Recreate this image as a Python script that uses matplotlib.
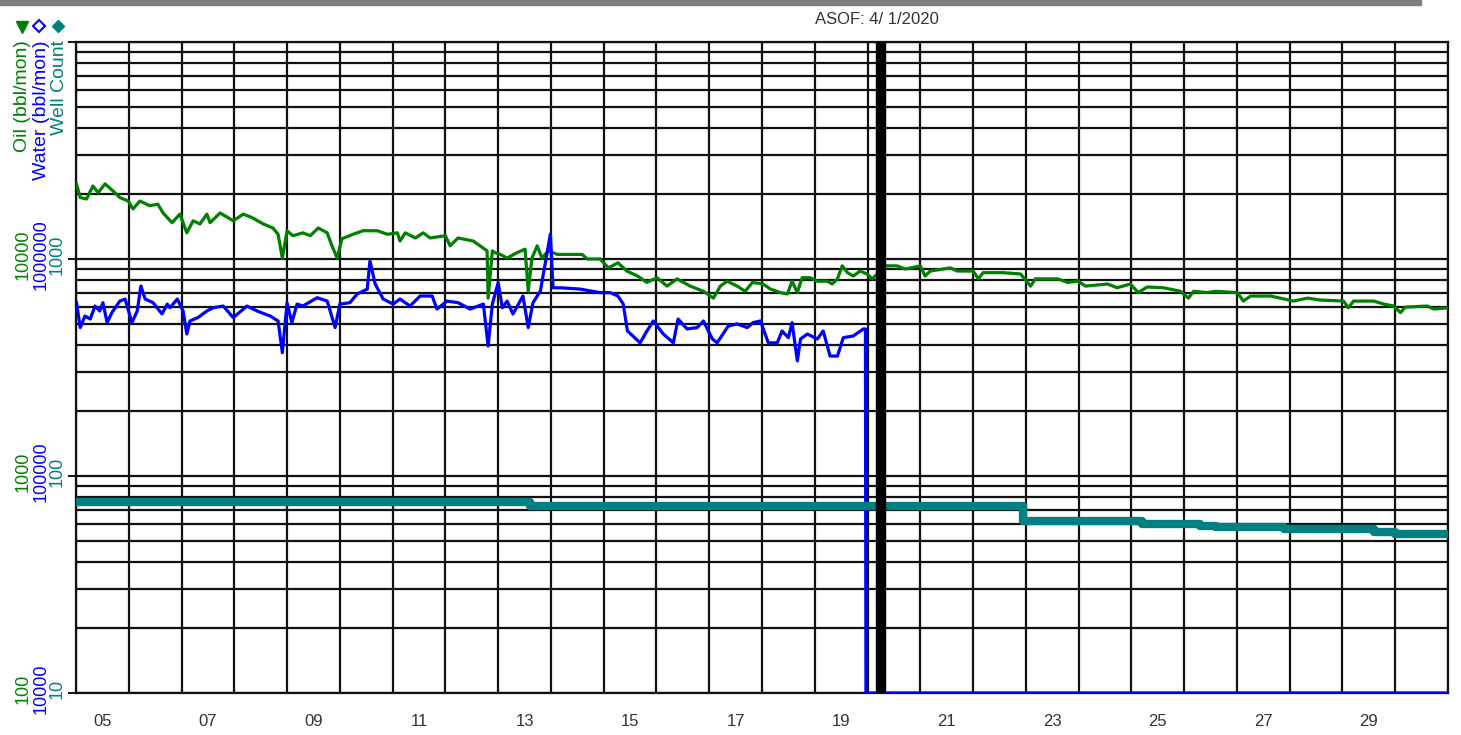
import numpy as np
import matplotlib
matplotlib.use('Agg')
import matplotlib.pyplot as plt
from matplotlib.ticker import LogLocator, NullFormatter, MultipleLocator, FixedLocator
from matplotlib.lines import Line2D
from matplotlib.patches import Rectangle
from matplotlib.transforms import blended_transform_factory, offset_copy

plt.rcParams['font.family'] = ['Liberation Sans', 'DejaVu Sans']

# Oil production (bbl/mon)
oil_year = [2005.01, 2005.08, 2005.20, 2005.32, 2005.42, 2005.55, 2005.70, 2005.83, 2005.99, 2006.08,
            2006.21, 2006.40, 2006.55, 2006.65, 2006.82, 2006.97, 2007.10, 2007.22, 2007.35, 2007.48,
            2007.54, 2007.73, 2007.98, 2008.17, 2008.34, 2008.55, 2008.73, 2008.83, 2008.91, 2009.00,
            2009.11, 2009.30, 2009.44, 2009.59, 2009.76, 2009.85, 2009.95, 2010.04, 2010.25, 2010.44,
            2010.71, 2010.90, 2011.09, 2011.14, 2011.24, 2011.43, 2011.58, 2011.71, 2012.00, 2012.09,
            2012.24, 2012.53, 2012.70, 2012.79, 2012.81, 2012.89, 2012.94, 2013.04, 2013.17, 2013.36,
            2013.51, 2013.57, 2013.64, 2013.74, 2013.83, 2013.95, 2014.12, 2014.42, 2014.59, 2014.69,
            2014.93, 2015.09, 2015.27, 2015.44, 2015.64, 2015.82, 2016.01, 2016.20, 2016.39, 2016.64,
            2016.89, 2017.08, 2017.21, 2017.34, 2017.53, 2017.68, 2017.82, 2018.02, 2018.16, 2018.35,
            2018.48, 2018.57, 2018.67, 2018.76, 2018.91, 2019.05, 2019.24, 2019.33, 2019.43, 2019.52,
            2019.62, 2019.73, 2019.86, 2019.99, 2020.09, 2020.34, 2020.56, 2020.72, 2021.00, 2021.09,
            2021.19, 2021.57, 2021.70, 2022.00, 2022.10, 2022.19, 2022.57, 2022.90, 2023.09, 2023.18,
            2023.60, 2023.79, 2023.99, 2024.13, 2024.55, 2024.73, 2024.98, 2025.13, 2025.30, 2025.61,
            2025.93, 2026.08, 2026.18, 2026.44, 2026.59, 2027.01, 2027.12, 2027.26, 2027.64, 2027.82,
            2028.07, 2028.34, 2028.58, 2029.02, 2029.11, 2029.21, 2029.59, 2029.78, 2029.97, 2030.10,
            2030.19, 2030.61, 2030.73, 2030.99]
oil_bbl = [22100, 19200, 18900, 21700, 20200, 22200, 20600, 19200, 18500, 17000,
           18500, 17600, 17900, 16300, 14700, 16100, 13200, 15000, 14500, 16100,
           14700, 16300, 15000, 16100, 15500, 14500, 13900, 13000, 10100, 13500,
           12800, 13200, 12800, 13900, 13200, 11500, 10100, 12400, 13000, 13500,
           13500, 13000, 13200, 12100, 13200, 12500, 13200, 12500, 12800, 11500,
           12500, 12100, 11300, 10900, 6600, 10900, 10700, 10500, 10100, 10700,
           11100, 7100, 10100, 11500, 10100, 10900, 10500, 10500, 10500, 10000,
           10000, 9100, 9600, 8800, 8350, 7800, 8200, 7500, 8100, 7500,
           7100, 6600, 7500, 7900, 7500, 7100, 7800, 7670, 7270, 7000,
           6900, 7900, 7000, 8200, 8200, 7900, 7900, 7670, 8100, 9300,
           8650, 8350, 8800, 8530, 8100, 9300, 9300, 8990, 9300, 8350,
           8800, 9100, 8800, 8800, 8100, 8650, 8650, 8530, 7500, 8100,
           8100, 7800, 7900, 7500, 7670, 7370, 7670, 7000, 7430, 7370,
           7100, 6600, 7100, 7000, 7100, 7000, 6400, 6750, 6750, 6600,
           6400, 6600, 6470, 6400, 5960, 6400, 6400, 6200, 6070, 5660,
           6000, 6070, 5880, 5950]

# Water production (bbl/mon); zero after shut-in
water_year = [2005.01, 2005.08, 2005.17, 2005.27, 2005.36, 2005.45, 2005.51, 2005.59, 2005.68, 2005.83,
              2005.93, 2006.06, 2006.16, 2006.23, 2006.31, 2006.46, 2006.63, 2006.73, 2006.78, 2006.92,
              2007.03, 2007.10, 2007.16, 2007.31, 2007.48, 2007.60, 2007.79, 2007.98, 2008.24, 2008.43,
              2008.68, 2008.83, 2008.91, 2009.00, 2009.09, 2009.19, 2009.30, 2009.57, 2009.76, 2009.91,
              2010.00, 2010.19, 2010.33, 2010.52, 2010.57, 2010.67, 2010.82, 2011.01, 2011.14, 2011.33,
              2011.52, 2011.75, 2011.84, 2012.03, 2012.24, 2012.47, 2012.72, 2012.81, 2012.89, 2013.00,
              2013.08, 2013.17, 2013.28, 2013.47, 2013.57, 2013.66, 2013.80, 2013.99, 2014.04, 2014.18,
              2014.55, 2014.93, 2015.12, 2015.27, 2015.37, 2015.45, 2015.69, 2015.82, 2015.94, 2016.13,
              2016.32, 2016.41, 2016.58, 2016.77, 2016.89, 2017.06, 2017.15, 2017.36, 2017.53, 2017.72,
              2017.83, 2017.97, 2018.06, 2018.12, 2018.29, 2018.38, 2018.50, 2018.57, 2018.67, 2018.73,
              2018.86, 2019.05, 2019.16, 2019.29, 2019.43, 2019.54, 2019.73, 2019.92, 2019.96, 2019.97,
              2031.0]
water_bbl = [629000, 483000, 546000, 529000, 607000, 576000, 629000, 509000, 566000, 640000,
             654000, 509000, 576000, 751000, 654000, 629000, 558000, 620000, 596000, 654000,
             576000, 451000, 518000, 537000, 576000, 596000, 607000, 537000, 607000, 576000,
             546000, 518000, 370000, 629000, 509000, 620000, 607000, 663000, 640000, 483000,
             620000, 629000, 690000, 727000, 979000, 767000, 654000, 620000, 654000, 607000,
             675000, 675000, 588000, 640000, 629000, 588000, 620000, 397000, 620000, 778000,
             596000, 640000, 558000, 675000, 483000, 629000, 712000, 1304000, 737000, 737000,
             727000, 700000, 700000, 675000, 620000, 466000, 411000, 466000, 518000, 451000,
             411000, 529000, 476000, 483000, 518000, 428000, 411000, 491000, 502000, 483000,
             509000, 518000, 451000, 411000, 411000, 466000, 434000, 509000, 339000, 428000,
             451000, 428000, 466000, 357000, 357000, 434000, 442000, 476000, 476000, 0,
             0]

# Well count (steps)
well_year = [2005.0, 2013.6, 2022.95, 2025.2, 2026.3, 2026.6, 2027.9, 2029.6, 2030.0, 2031.0]
well_count = [76, 73, 62, 60, 59, 58, 57, 55, 54, 54]

asof_year = 2020.25
year_labels = ['05', '07', '09', '11', '13', '15', '17', '19', '21', '23', '25', '27', '29']
label_pos = [2005.5 + 2 * i for i in range(len(year_labels))]

OIL = '#008000'
WATER = '#0000ff'
COUNT = '#008080'
GRID = '#111111'

W, H = 1461, 735
fig = plt.figure(figsize=(W / 100, H / 100), dpi=100)
ax = fig.add_axes([76 / W, 42 / H, 1372 / W, 651 / H])

ax.set_xlim(2005, 2031)
ax.set_yscale('log')
ax.set_ylim(100, 1e5)

ax_w = ax.twinx()
ax_w.set_yscale('log')
ax_w.set_ylim(1e4, 1e7)
ax_w.axis('off')

ax_c = ax.twinx()
ax_c.set_yscale('log')
ax_c.set_ylim(10, 1e4)
ax_c.axis('off')

# grid: yearly verticals, log 1-9 horizontals
ax.yaxis.set_major_locator(LogLocator(base=10, numticks=10))
ax.yaxis.set_minor_locator(LogLocator(base=10, subs=np.arange(2, 10), numticks=10))
ax.yaxis.set_major_formatter(NullFormatter())
ax.yaxis.set_minor_formatter(NullFormatter())
ax.xaxis.set_major_locator(FixedLocator(label_pos))
ax.set_xticklabels(year_labels)
ax.xaxis.set_minor_locator(MultipleLocator(1))
ax.grid(which='minor', axis='x', color=GRID, lw=1.6)
ax.grid(which='both', axis='y', color=GRID, lw=1.6)
ax.set_axisbelow(True)
ax.tick_params(axis='x', which='both', length=0, pad=15, labelsize=12, labelcolor='#333333')
ax.tick_params(axis='y', which='major', length=5.5, width=1.4, color=GRID)
ax.tick_params(axis='y', which='minor', length=0)
for s in ax.spines.values():
    s.set_linewidth(1.6)
    s.set_color(GRID)

# series
ax.plot(oil_year, oil_bbl, color=OIL, lw=2.3, zorder=3)
ax_w.plot(water_year, np.clip(water_bbl, 1e4, None), color=WATER, lw=2.3, zorder=3)
ax_c.plot(well_year, well_count, drawstyle='steps-post', color=COUNT, lw=6, zorder=2)
ax_c.axvline(asof_year, color='black', lw=7.5, zorder=5)

ax.annotate('ASOF: 4/ 1/2020', xy=(asof_year, 1), xycoords=('data', 'axes fraction'),
            xytext=(-3, 16), textcoords='offset points', ha='center', va='center',
            fontsize=12, color='#333333')

# left axis labels, three stacked scales
scales = [(ax, [100, 1000, 10000], OIL, 23),
          (ax_w, [10000, 100000, 1000000], WATER, 41),
          (ax_c, [10, 100, 1000], COUNT, 57)]
for a, vals, col, xp in scales:
    tr = offset_copy(blended_transform_factory(fig.transFigure, a.transData), fig=fig, y=4, units='dots')
    for v in vals:
        a.text(xp / W, v, str(v), transform=tr, rotation=90, ha='center', va='center',
               fontsize=13, color=col, clip_on=False)

fig.text(23 / W, 1 - 40 / H, 'Oil (bbl/mon)', rotation=90, ha='center', va='top', fontsize=14, color=OIL)
fig.text(42 / W, 1 - 40 / H, 'Water (bbl/mon)', rotation=90, ha='center', va='top', fontsize=14, color=WATER)
fig.text(60 / W, 1 - 40 / H, 'Well Count', rotation=90, ha='center', va='top', fontsize=14, color=COUNT)

fig.add_artist(Line2D([22 / W], [1 - 27 / H], marker='v', ms=9, color=OIL, transform=fig.transFigure))
fig.add_artist(Line2D([39 / W], [1 - 26 / H], marker='D', ms=6, mfc='white', mec=WATER, mew=1.5,
                      transform=fig.transFigure))
fig.add_artist(Line2D([58 / W], [1 - 26 / H], marker='D', ms=6.5, color=COUNT, transform=fig.transFigure))

# grey strip along the top edge
fig.add_artist(Rectangle((0, 1 - 5 / H), 1421 / W, 5 / H, transform=fig.transFigure, color='#7f7f7f'))

fig.savefig('out.png', dpi=100)
